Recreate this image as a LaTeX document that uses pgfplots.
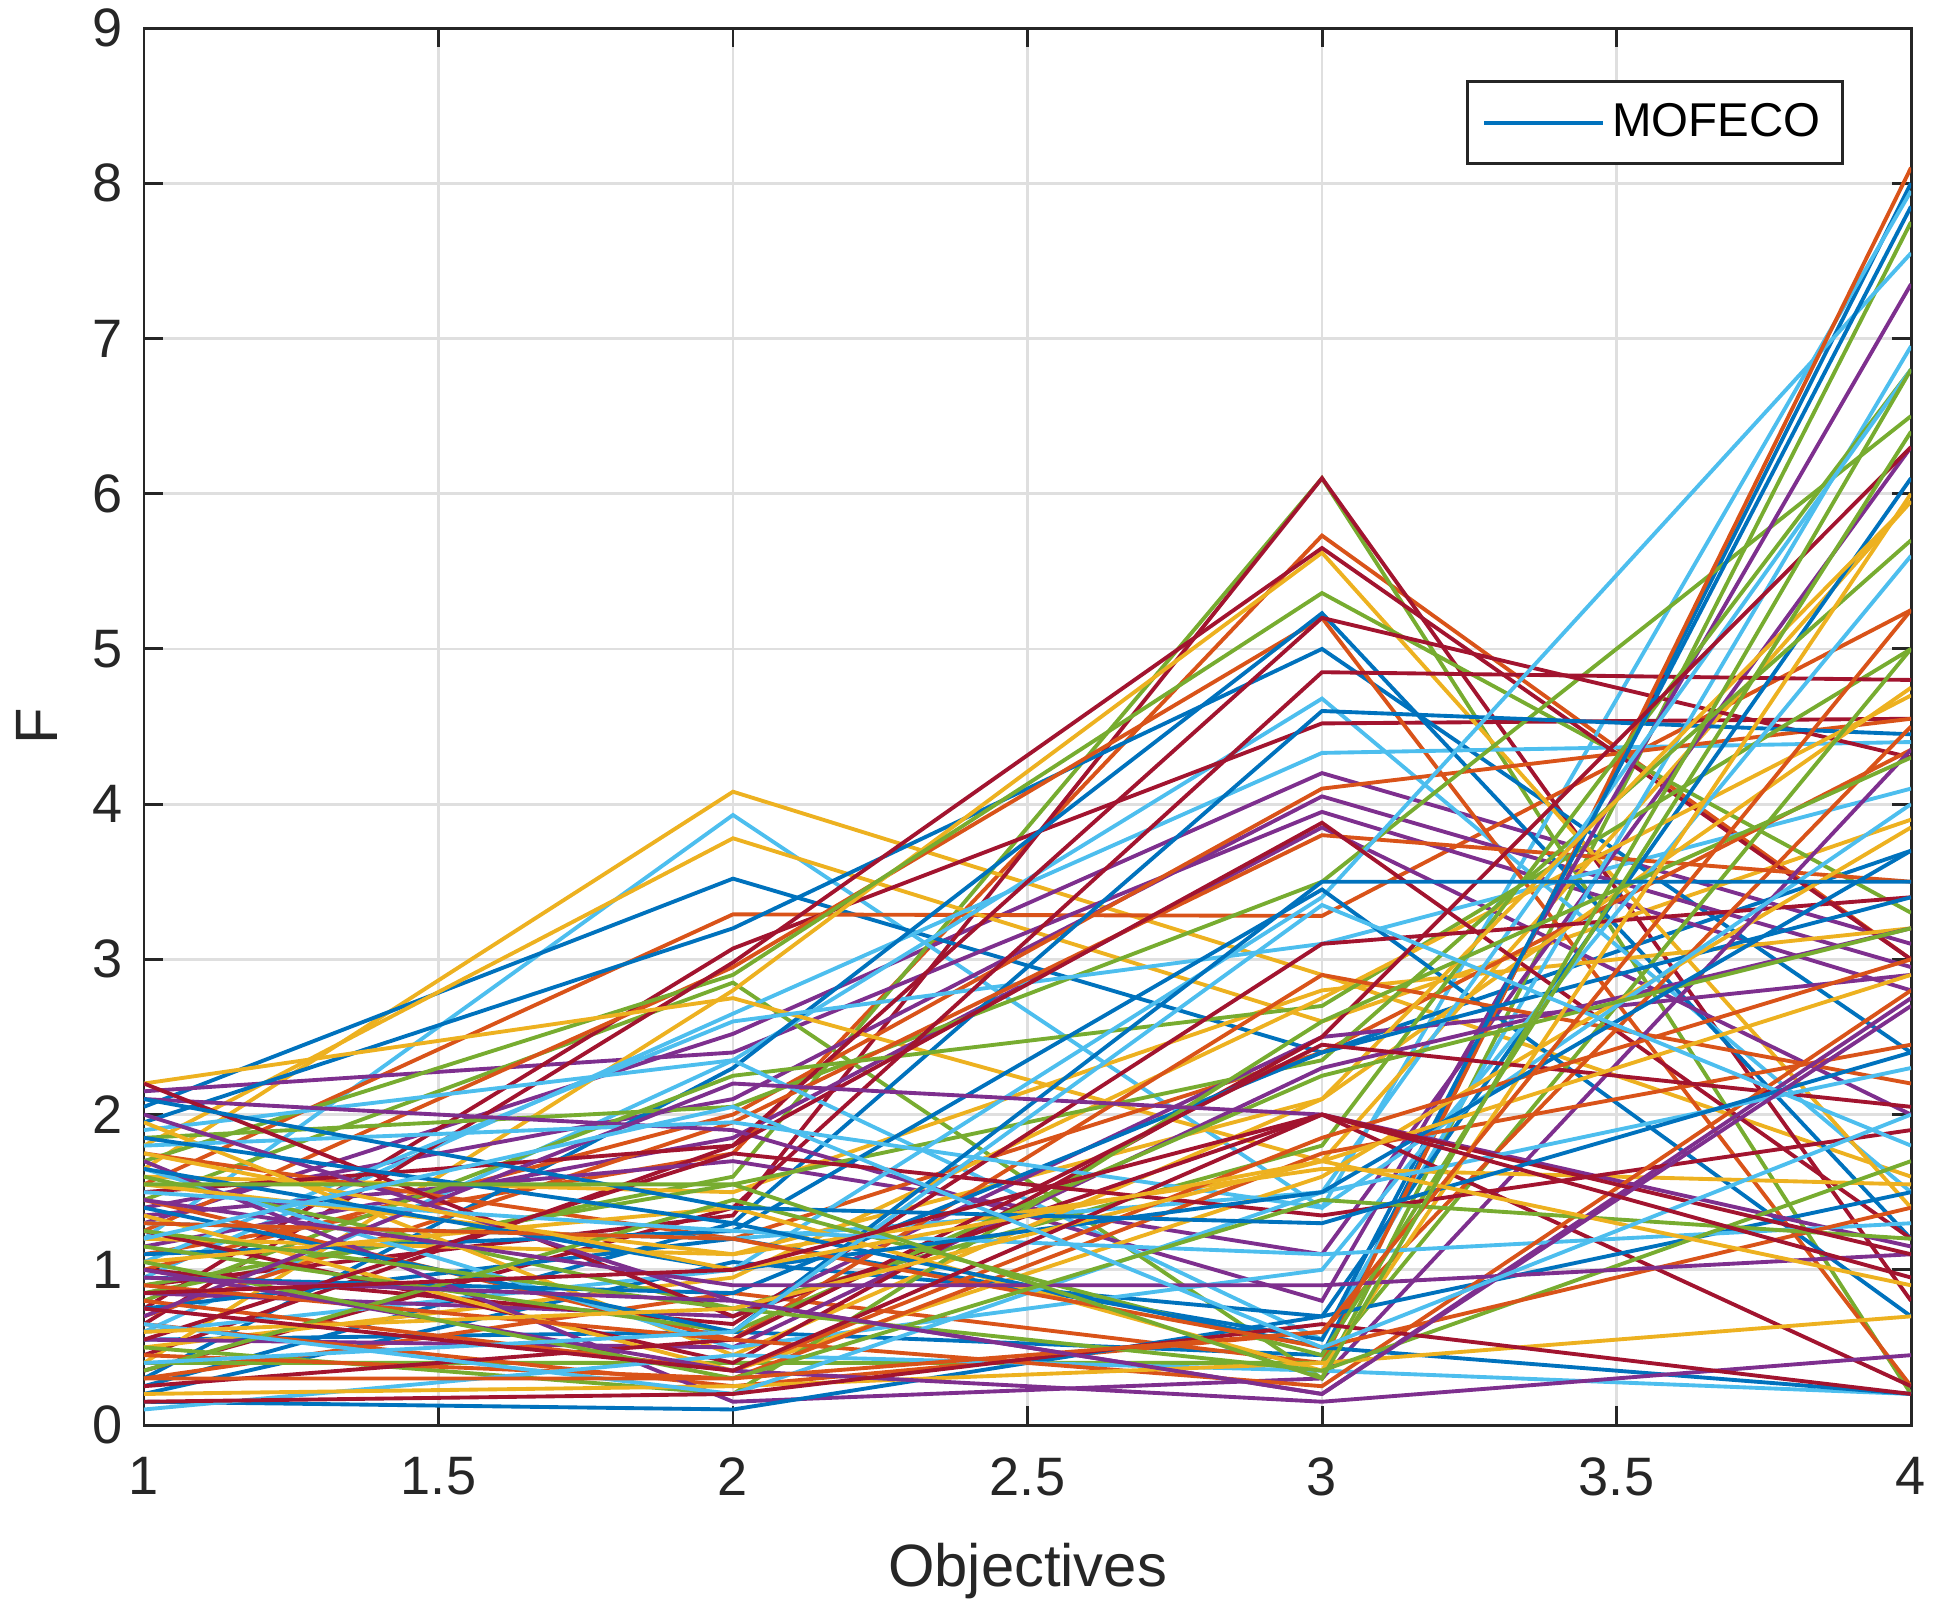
\documentclass[border=0pt]{standalone}
\usepackage{fontspec}
\setmainfont{Liberation Sans}
\usepackage{pgfplots}
\pgfplotsset{compat=1.18}
\definecolor{c1}{HTML}{0072BD}
\definecolor{c2}{HTML}{D95319}
\definecolor{c3}{HTML}{EDB120}
\definecolor{c4}{HTML}{7E2F8E}
\definecolor{c5}{HTML}{77AC30}
\definecolor{c6}{HTML}{4DBEEE}
\definecolor{c7}{HTML}{A2142F}
\definecolor{axc}{HTML}{262626}
\definecolor{gridc}{HTML}{DFDFDF}
\pgfplotscreateplotcyclelist{matlab}{
{c1},{c2},{c3},{c4},{c5},{c6},{c7}}
\newcommand{\PL}[4]{\addplot coordinates {(1,#1)(2,#2)(3,#3)(4,#4)};}
\begin{document}
\begin{tikzpicture}
\useasboundingbox (-1.44cm,-1.82cm) rectangle (17.96cm,14.25cm);
\begin{axis}[
  at={(0,0)}, anchor=south west,
  scale only axis, width=17.67cm, height=13.97cm,
  xmin=1, xmax=4, ymin=0, ymax=9,
  xtick={1,1.5,...,4}, ytick={0,1,...,9},
  /pgf/number format/assume math mode=true,
  tick label style={font=\fontsize{15.4}{18}\selectfont, text=axc},
  xticklabel style={yshift=-2.0mm},
  yticklabel style={xshift=-0.9mm},
  label style={font=\fontsize{17}{20}\selectfont, text=axc},
  xlabel={Objectives}, ylabel={F},
  xlabel style={at={(axis description cs:0.5,-0.1045)}, anchor=center},
  ylabel style={at={(axis description cs:-0.0606,0.5)}, anchor=center, rotate=0},
  tick align=inside, major tick length=1.9mm,
  tick style={draw=axc, line width=0.85pt},
  axis line style={draw=axc, line width=0.85pt},
  grid=major, major grid style={draw=gridc, line width=0.8pt},
  cycle list name=matlab,
  every axis plot/.append style={line width=1.1pt, no markers},
  legend entries={MOFECO},
  legend style={at={(1,1)}, anchor=north east, xshift=-6.7mm, yshift=-5.2mm,
    draw=axc, line width=0.85pt, font=\fontsize{13.5}{16}\selectfont,
    inner xsep=1.5mm, inner ysep=1.5mm},
  legend image code/.code={\draw[#1] (0cm,0cm) -- (1.19cm,0cm);},
]
\PL{0.55}{0.60}{0.45}{8.00}
\PL{1.10}{1.75}{5.73}{3.00}
\PL{1.65}{4.08}{2.90}{1.60}
\PL{1.30}{2.52}{4.20}{3.10}
\PL{0.85}{1.60}{6.10}{0.20}
\PL{1.20}{3.93}{1.40}{7.95}
\PL{0.90}{1.35}{6.10}{0.80}
\PL{2.05}{3.52}{2.40}{3.70}
\PL{1.55}{3.29}{3.28}{5.25}
\PL{1.80}{3.78}{2.60}{3.90}
\PL{2.15}{2.40}{3.95}{2.80}
\PL{1.45}{2.85}{0.30}{7.75}
\PL{0.60}{2.35}{4.68}{1.50}
\PL{0.75}{3.07}{4.52}{4.55}
\PL{1.95}{3.20}{5.00}{2.40}
\PL{1.25}{2.95}{5.20}{0.25}
\PL{0.40}{2.80}{5.62}{1.40}
\PL{1.40}{2.10}{4.05}{2.95}
\PL{1.70}{2.90}{5.36}{3.30}
\PL{0.95}{2.65}{4.33}{4.40}
\PL{0.65}{2.98}{5.65}{3.00}
\PL{0.30}{2.30}{5.23}{1.20}
\PL{1.00}{2.00}{4.10}{4.55}
\PL{2.20}{2.75}{1.70}{5.95}
\PL{1.15}{1.85}{3.85}{2.00}
\PL{1.85}{2.05}{3.50}{6.50}
\PL{1.05}{2.60}{3.10}{4.10}
\PL{0.45}{1.80}{5.20}{4.30}
\PL{0.25}{1.30}{4.60}{4.45}
\PL{0.70}{1.95}{3.80}{3.50}
\PL{1.60}{1.50}{2.80}{3.20}
\PL{1.35}{1.70}{1.10}{6.30}
\PL{0.80}{2.25}{2.70}{5.00}
\PL{1.90}{2.35}{0.55}{6.95}
\PL{0.35}{1.40}{4.85}{4.80}
\PL{0.20}{1.05}{0.70}{6.10}
\PL{1.75}{1.20}{2.40}{4.35}
\PL{0.50}{0.95}{2.75}{4.70}
\PL{2.10}{1.90}{0.80}{7.35}
\PL{0.90}{1.55}{2.35}{5.70}
\PL{0.60}{1.00}{3.40}{7.55}
\PL{1.50}{1.80}{3.88}{1.20}
\PL{1.10}{1.25}{3.45}{0.70}
\PL{0.30}{0.85}{0.40}{8.10}
\PL{1.20}{1.10}{2.10}{4.75}
\PL{0.85}{0.70}{2.50}{2.90}
\PL{1.60}{0.75}{1.80}{6.80}
\PL{1.30}{1.20}{1.50}{6.80}
\PL{1.00}{0.65}{3.10}{3.40}
\PL{0.75}{1.20}{0.55}{7.85}
\PL{1.45}{0.55}{2.90}{2.20}
\PL{1.95}{0.45}{2.10}{5.95}
\PL{0.55}{0.50}{2.30}{3.20}
\PL{0.40}{0.40}{0.40}{5.00}
\PL{1.65}{0.50}{1.00}{5.60}
\PL{1.25}{0.40}{2.50}{6.30}
\PL{0.95}{0.85}{2.40}{3.40}
\PL{0.65}{0.25}{0.60}{4.50}
\PL{1.35}{0.35}{1.60}{3.85}
\PL{1.70}{0.15}{0.30}{4.35}
\PL{0.50}{0.20}{2.60}{4.30}
\PL{1.80}{1.95}{1.40}{4.00}
\PL{2.20}{0.70}{2.00}{0.25}
\PL{0.15}{0.10}{0.70}{1.50}
\PL{0.45}{0.30}{1.75}{2.45}
\PL{1.55}{1.10}{1.65}{1.55}
\PL{2.00}{0.80}{0.20}{2.75}
\PL{1.15}{0.60}{2.25}{3.20}
\PL{0.10}{0.45}{0.35}{0.20}
\PL{0.25}{0.55}{2.45}{2.05}
\PL{1.40}{0.60}{3.50}{3.50}
\PL{0.80}{0.35}{1.85}{3.00}
\PL{1.05}{1.40}{0.35}{6.00}
\PL{0.70}{2.20}{2.00}{1.15}
\PL{0.35}{1.45}{0.45}{6.40}
\PL{1.50}{1.25}{1.10}{1.30}
\PL{0.55}{1.75}{1.35}{1.90}
\PL{1.85}{1.30}{0.50}{0.20}
\PL{0.90}{0.55}{0.25}{2.80}
\PL{0.20}{0.25}{0.40}{0.70}
\PL{1.00}{0.35}{0.15}{0.45}
\PL{1.25}{0.75}{0.35}{1.70}
\PL{0.65}{0.20}{1.50}{2.30}
\PL{0.15}{0.20}{0.65}{0.20}
\PL{1.65}{1.00}{1.50}{3.70}
\PL{1.30}{1.20}{0.50}{1.40}
\PL{0.60}{0.75}{1.70}{2.90}
\PL{1.45}{0.90}{0.90}{1.10}
\PL{1.05}{0.30}{1.45}{1.20}
\PL{0.40}{0.60}{3.35}{1.80}
\PL{0.75}{0.35}{2.00}{1.10}
\PL{2.10}{1.40}{1.30}{2.40}
\PL{0.30}{0.30}{0.60}{5.25}
\PL{1.75}{1.00}{1.70}{0.90}
\PL{0.95}{0.80}{0.20}{2.70}
\PL{1.55}{1.55}{0.30}{6.80}
\PL{1.20}{2.05}{0.50}{2.00}
\PL{0.85}{1.00}{2.00}{0.95}
\end{axis}
\end{tikzpicture}
\end{document}
